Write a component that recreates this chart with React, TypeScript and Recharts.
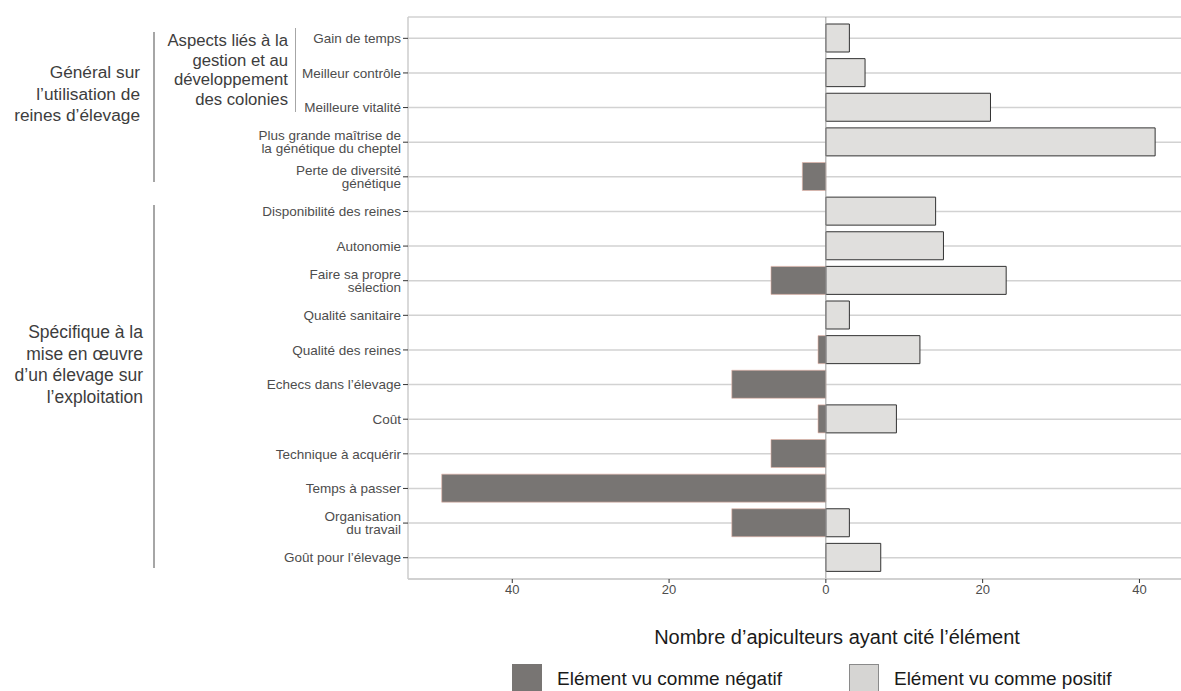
import {
  BarChart,
  Bar,
  XAxis,
  YAxis,
  CartesianGrid,
  ReferenceLine,
} from 'recharts';

// Categories top to bottom, "\n" splits labels on two lines
const categories = [
  'Gain de temps',
  'Meilleur contrôle',
  'Meilleure vitalité',
  'Plus grande maîtrise de\nla génétique du cheptel',
  'Perte de diversité\ngénétique',
  'Disponibilité des reines',
  'Autonomie',
  'Faire sa propre\nsélection',
  'Qualité sanitaire',
  'Qualité des reines',
  'Echecs dans l’élevage',
  'Coût',
  'Technique à acquérir',
  'Temps à passer',
  'Organisation\ndu travail',
  'Goût pour l’élevage',
];

const negatives = [0, 0, 0, 0, -3, 0, 0, -7, 0, -1, -12, -1, -7, -49, -12, 0];
const positives = [3, 5, 21, 42, 0, 14, 15, 23, 3, 12, 0, 9, 0, 0, 3, 7];

const xTicks = [-40, -20, 0, 20, 40];

const series = [
  { key: 'neg', name: 'Elément vu comme négatif', fill: '#787573', stroke: '#e6b4a6', legendFill: '#787573' },
  { key: 'pos', name: 'Elément vu comme positif', fill: '#e0dfdd', stroke: '#333333', legendFill: '#d6d5d3' },
];

const data = categories.map((name, i) => ({ name, neg: negatives[i], pos: positives[i] }));

const FONT = '"Liberation Sans", Arial, sans-serif';

const CategoryTick = ({ x, y, payload }: any) => {
  const lines = String(payload.value).split('\n');
  const start = -(lines.length - 1) * 6.5;
  return (
    <text x={x} y={y} textAnchor="end" fill="#4d4d4d" fontSize={13.5} fontFamily={FONT}>
      {lines.map((l, i) => (
        <tspan key={i} x={x} y={y + start + i * 13} dy="0.35em">
          {l}
        </tspan>
      ))}
    </text>
  );
};

const GroupLabel = ({ lines, right, top, size, lh }: any) => (
  <div
    style={{
      position: 'absolute',
      left: right - 220,
      width: 220,
      top,
      textAlign: 'right',
      fontSize: size,
      lineHeight: `${lh}px`,
      color: '#3d3d3d',
      fontFamily: FONT,
    }}
  >
    {lines.map((l: string, i: number) => (
      <div key={i}>{l}</div>
    ))}
  </div>
);

const VLine = ({ x, y1, y2 }: any) => (
  <div style={{ position: 'absolute', left: x, top: y1, width: 1.5, height: y2 - y1, background: '#a6a6a6' }} />
);

const App = () => {
  return (
    <div
      style={{
        position: 'absolute',
        left: 0,
        top: 0,
        width: 1181,
        height: 691,
        overflow: 'hidden',
        background: '#fff',
        fontFamily: FONT,
      }}
    >
      <BarChart
        width={1181}
        height={691}
        data={data}
        layout="vertical"
        stackOffset="sign"
        barSize={28}
        margin={{ top: 17, right: 0, bottom: 82, left: 0 }}
      >
        <CartesianGrid vertical={false} stroke="#d2d2d2" strokeWidth={1.5} />
        <XAxis
          type="number"
          domain={[-53.3, 45.3]}
          allowDataOverflow
          ticks={xTicks}
          tickFormatter={(v) => String(Math.abs(v))}
          height={30}
          tickSize={4}
          tickLine={{ stroke: '#333' }}
          axisLine={{ stroke: '#cccccc', strokeWidth: 1.5 }}
          tick={{ fill: '#4d4d4d', fontSize: 13, fontFamily: FONT }}
        />
        <XAxis
          xAxisId="top"
          orientation="top"
          type="number"
          domain={[-53.3, 45.3]}
          height={0}
          tick={false}
          tickLine={false}
          axisLine={{ stroke: '#dddddd', strokeWidth: 1.5 }}
        />
        <YAxis
          type="category"
          dataKey="name"
          width={408}
          interval={0}
          tickSize={5}
          tickLine={{ stroke: '#333' }}
          axisLine={{ stroke: '#cccccc', strokeWidth: 1.5 }}
          padding={{ top: 4, bottom: 4 }}
          tick={<CategoryTick />}
        />
        <ReferenceLine x={0} stroke="#999999" strokeWidth={1} />
        {series.map((s) => (
          <Bar
            key={s.key}
            dataKey={s.key}
            name={s.name}
            stackId="a"
            fill={s.fill}
            stroke={s.stroke}
            strokeWidth={s.key === 'pos' ? 1 : 0.6}
            isAnimationActive={false}
          />
        ))}
      </BarChart>

      <GroupLabel
        lines={['Général sur', 'l’utilisation de', 'reines d’élevage']}
        right={140}
        top={62}
        size={17.3}
        lh={21.5}
      />
      <VLine x={153} y1={32} y2={182} />
      <GroupLabel
        lines={['Aspects liés à la', 'gestion et au', 'développement', 'des colonies']}
        right={288}
        top={31}
        size={16.7}
        lh={19.7}
      />
      <VLine x={294.5} y1={28} y2={112} />
      <GroupLabel
        lines={['Spécifique à la', 'mise en œuvre', 'd’un élevage sur', 'l’exploitation']}
        right={143}
        top={322}
        size={17.5}
        lh={21.5}
      />
      <VLine x={153} y1={205} y2={568} />

      <div
        style={{
          position: 'absolute',
          left: 537,
          width: 600,
          top: 625,
          textAlign: 'center',
          fontSize: 20,
          lineHeight: '24px',
          color: '#1a1a1a',
        }}
      >
        Nombre d’apiculteurs ayant cité l’élément
      </div>

      <div style={{ position: 'absolute', left: 512, top: 664, display: 'flex' }}>
        {series.map((s, i) => (
          <div key={s.key} style={{ display: 'flex', alignItems: 'center', marginRight: i === 0 ? 67 : 0 }}>
            <div
              style={{
                width: 30,
                height: 30,
                boxSizing: 'border-box',
                background: s.legendFill,
                border: s.key === 'pos' ? '1px solid #8a8a8a' : 'none',
              }}
            />
            <span style={{ marginLeft: 15, fontSize: 19, lineHeight: '30px', color: '#1a1a1a' }}>{s.name}</span>
          </div>
        ))}
      </div>
    </div>
  );
};

export default App;
